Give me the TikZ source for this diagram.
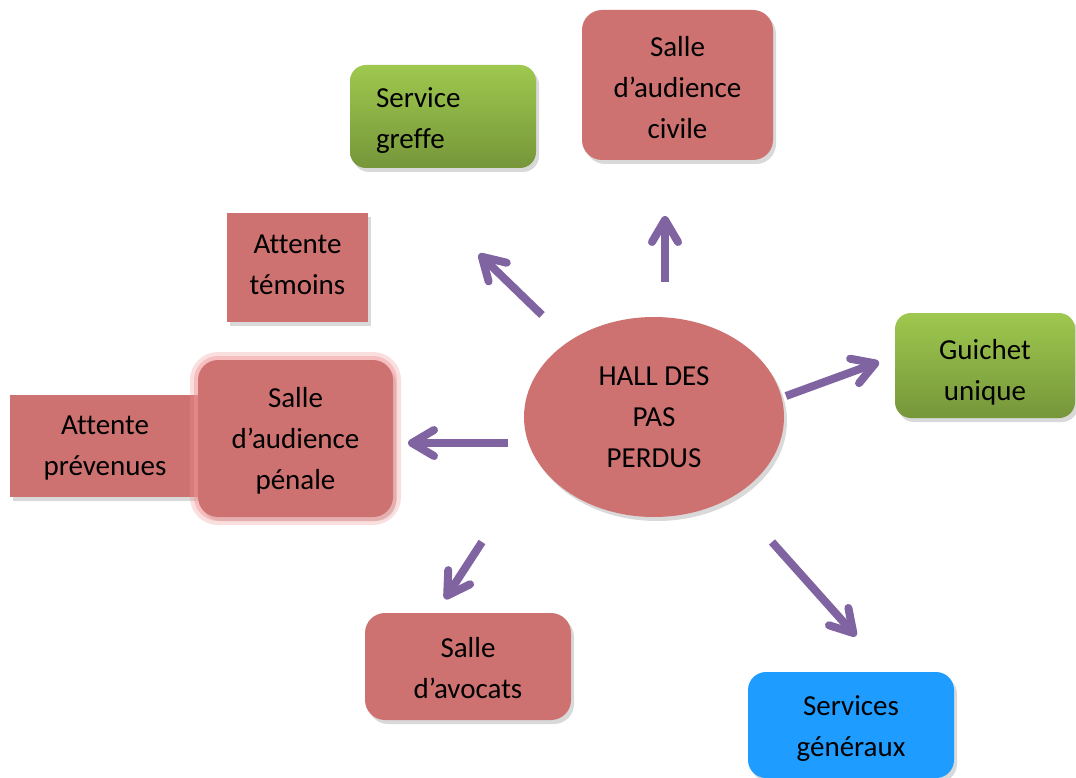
\documentclass[tikz,border=0pt]{standalone}
\usepackage{fontspec}
\setmainfont{Carlito}[Ligatures=NoCommon]
\usetikzlibrary{shapes.geometric,shadows,arrows.meta}
\definecolor{cred}{RGB}{205,114,112}
\definecolor{cgtop}{RGB}{158,200,78}
\definecolor{cgbot}{RGB}{118,150,58}
\definecolor{cblue}{RGB}{30,156,255}
\definecolor{cpurple}{RGB}{128,100,162}
\definecolor{cglow}{RGB}{240,150,150}
\begin{document}
\begin{tikzpicture}[x=1pt,y=-1pt,
  lbl/.style={font=\fontsize{29}{41}\selectfont, align=center, text=black, inner sep=0pt},
  ts/.style={execute at begin node={\rule{0pt}{#1pt}},
             execute at end node={\rule[-10pt]{0pt}{10pt}}},
  shad/.style={drop shadow={opacity=0.3,shadow xshift=3pt,shadow yshift=-4pt}},
  redbox/.style={lbl, shad, rounded corners=20pt, fill=cred},
  greenbox/.style={lbl, shad, rounded corners=16pt, top color=cgtop, bottom color=cgbot},
  bluebox/.style={lbl, shad, rounded corners=18pt, fill=cblue},
  sqbox/.style={lbl, shad, fill=cred},
  arr/.style={draw=cpurple, line width=8pt, -{Straight Barb[length=22pt,width=26pt,round]}}]
\useasboundingbox (0,0) rectangle (1076,778);

\node[greenbox, ts=34, minimum width=186pt, minimum height=103pt, text width=134pt, align=left]
  (greffe) at (443,116.5) {Service\\greffe};
\node[redbox, ts=35, minimum width=191pt, minimum height=150pt, text width=170pt] (civile) at (677.5,85) {Salle\\d’audience\\civile};
\node[sqbox, ts=23, minimum width=141pt, minimum height=109pt, text width=120pt] (temoins) at (297.5,267.5) {Attente\\témoins};
\node[lbl, shad, ellipse, fill=cred, minimum width=260pt, minimum height=200pt] (hall) at (654,417) {HALL DES\\PAS\\PERDUS};
\node[greenbox, ts=38, minimum width=180pt, minimum height=105pt, text width=160pt] (guichet) at (985,365.5) {Guichet\\unique};
\node[sqbox, ts=27, minimum width=190pt, minimum height=102pt, text width=170pt] (prev) at (105,446) {Attente\\prévenues};
\node[redbox, ts=30, minimum width=195pt, minimum height=157pt, text width=170pt,
  preaction={draw=cglow, draw opacity=0.3, line width=16pt},
  preaction={draw=cglow, draw opacity=0.45, line width=8pt}] (penale) at (295.5,438.5) {Salle\\d’audience\\pénale};
\node[redbox, ts=32, minimum width=206pt, minimum height=107pt, text width=180pt] (avocats) at (468,666.5) {Salle\\d’avocats};
\node[bluebox, ts=32, minimum width=206pt, minimum height=106pt, text width=180pt] (generaux) at (851,725) {Services\\généraux};

\coordinate (s1) at (542,315); \coordinate (e1) at (479,254);
\coordinate (s2) at (665,282); \coordinate (e2) at (665,216);
\coordinate (s3) at (786,396); \coordinate (e3) at (879,362);
\coordinate (s4) at (508,443); \coordinate (e4) at (408,443);
\coordinate (s5) at (482,542); \coordinate (e5) at (445,599);
\coordinate (s6) at (772,542); \coordinate (e6) at (856,636);
\foreach \i in {1,...,6} {\draw[arr] (s\i) -- (e\i);}
\end{tikzpicture}
\end{document}
